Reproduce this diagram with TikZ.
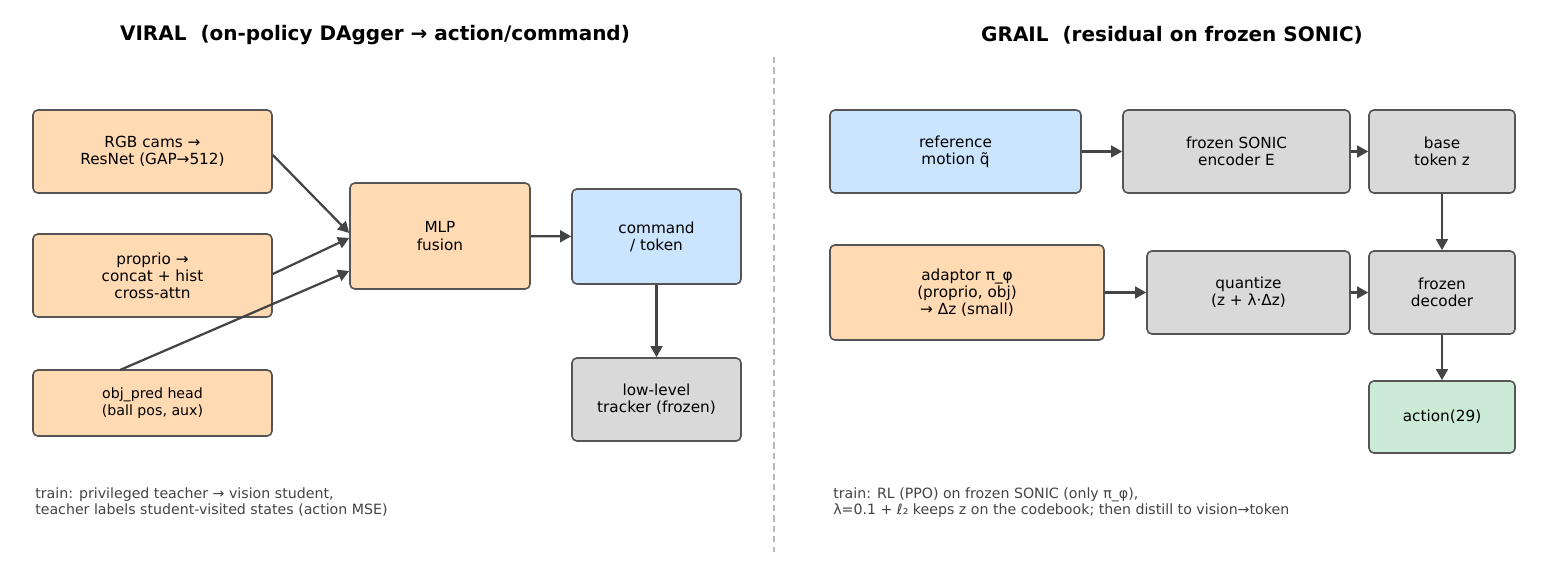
\documentclass[tikz,border=0pt]{standalone}
\usepackage{fontspec}
\setmainfont{DejaVu Sans}
\usetikzlibrary{arrows.meta}
\definecolor{orng}{HTML}{FFDAB3}
\definecolor{blu}{HTML}{CCE5FF}
\definecolor{gry}{HTML}{D9D9D9}
\definecolor{grn}{HTML}{CCEBD6}
\definecolor{edge}{HTML}{555555}
\definecolor{arr}{HTML}{444444}
\definecolor{note}{HTML}{444444}
\tikzset{
  box/.style={draw=edge, line width=1.15pt, rounded corners=3.5pt, align=center, inner sep=0pt,
    font=\fontsize{11}{12.3}\selectfont},
  bw/.style={minimum width={#1*0.72pt}},
  bh/.style={minimum height={#1*0.72pt}},
  conn/.style={draw=arr, line width=1.6pt, -{Triangle[length=8pt,width=8.5pt]}},
  ttl/.style={font=\fontsize{14.4}{16}\selectfont\bfseries},
  nt/.style={font=\fontsize{10.2}{11.8}\selectfont, text=note, align=left, anchor=north west, inner sep=0pt},
}
\begin{document}
\begin{tikzpicture}[x=0.72pt, y=-0.72pt]
\path[use as bounding box, fill=white] (0,0) rectangle (1547,587);
% titles
\node[ttl] (t1) at (375,35.5) {VIRAL\ \ (on-policy DAgger → action/command)};
\node[ttl] (t2) at (1172,35.5) {GRAIL\ \ (residual on frozen SONIC)};
% divider
\coordinate (d1) at (774,57);
\coordinate (d2) at (774,552);
\draw[gray!55, line width=1.1pt, dash pattern=on 4.5pt off 3pt] (d1) -- (d2);
% left nodes
\node[box, fill=orng, bw=239, bh=83] (rgb) at (152.5,151.5) {RGB cams →\\ResNet (GAP→512)};
\node[box, fill=orng, bw=239, bh=83] (pro) at (152.5,275.5) {proprio →\\concat + hist\\cross-attn};
\node[box, fill=orng, bw=239, bh=66, font=\fontsize{10.2}{12}\selectfont] (obj) at (152.5,403) {obj\_pred head\\(ball pos, aux)};
\node[box, fill=orng, bw=180, bh=106] (mlp) at (440,236) {MLP\\fusion};
\node[box, fill=blu, bw=169, bh=95] (cmd) at (656.5,236.5) {command\\/ token};
\node[box, fill=gry, bw=169, bh=83] (low) at (656.5,399.5) {low-level\\tracker (frozen)};
\coordinate (objtop) at (120,370);
\draw[conn] (rgb.east |- 0,155) -- (mlp.west |- 0,233);
\draw[conn] (pro.east |- 0,274) -- (mlp.west |- 0,238);
\draw[conn] (objtop) -- (mlp.west |- 0,271);
\draw[conn] (mlp) -- (cmd);
\draw[conn] (cmd) -- (low);
\node[nt] (n1) at (35,487) {train: privileged teacher → vision student,\\teacher labels student-visited states (action MSE)};
% right nodes
\node[box, fill=blu, bw=251, bh=83] (ref) at (955.5,151.5) {reference\\motion q̃};
\node[box, fill=gry, bw=227, bh=83] (enc) at (1236.5,151.5) {frozen SONIC\\encoder E};
\node[box, fill=gry, bw=146, bh=83] (base) at (1442,151.5) {base\\token z};
\node[box, fill=orng, bw=274, bh=95] (ada) at (967,292.5) {adaptor π\_φ\\(proprio, obj)\\→ Δz (small)};
\node[box, fill=gry, bw=203, bh=83] (qz) at (1248.5,292.5) {quantize\\(z + λ·Δz)};
\node[box, fill=gry, bw=146, bh=83] (dec) at (1442,292.5) {frozen\\decoder};
\node[box, fill=grn, bw=146, bh=72] (act) at (1442,417) {action(29)};
\draw[conn] (ref) -- (enc);
\draw[conn] (enc) -- (base);
\draw[conn] (base) -- (dec);
\draw[conn] (ada) -- (qz);
\draw[conn] (qz) -- (dec);
\draw[conn] (dec) -- (act);
\node[nt] (n2) at (833,487) {train: RL (PPO) on frozen SONIC (only π\_φ),\\λ=0.1 + ℓ₂ keeps z on the codebook; then distill to vision→token};
\end{tikzpicture}
\end{document}
